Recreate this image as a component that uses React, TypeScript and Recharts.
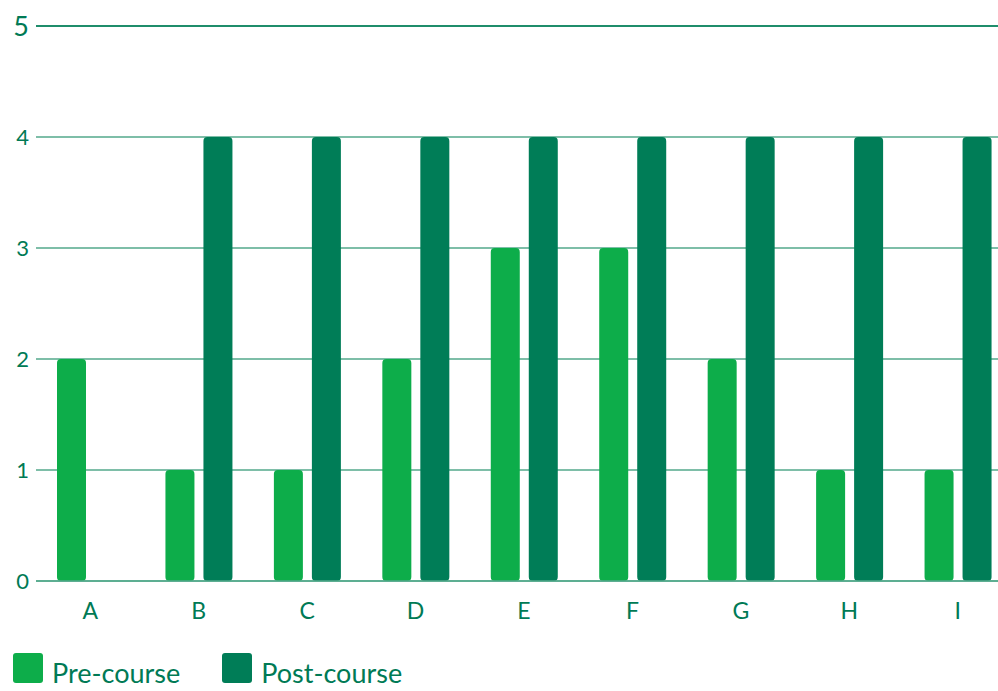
import React from "react";
import {
  Bar,
  BarChart,
  CartesianGrid,
  Legend,
  ReferenceLine,
  XAxis,
  YAxis,
} from "recharts";

const CATEGORIES = ["A", "B", "C", "D", "E", "F", "G", "H", "I"];
const PRE_COURSE = [2, 1, 1, 2, 3, 3, 2, 1, 1];
const POST_COURSE = [0, 4, 4, 4, 4, 4, 4, 4, 4];
const Y_TICKS = [0, 1, 2, 3, 4, 5];

const PRE_COLOR = "#0dad4a";
const POST_COLOR = "#007d57";
const TEXT_COLOR = "#007a55";
const GRID_COLOR = "#53a98b";
const FONT = "Lato, 'Open Sans', sans-serif";

const data = CATEGORIES.map((name, i) => ({
  name,
  pre: PRE_COURSE[i],
  post: POST_COURSE[i],
}));

function YTick(props: any) {
  const { x, y, payload } = props;
  const top = payload.value === 5;
  return (
    <text
      x={x}
      y={y}
      dy="0.36em"
      textAnchor="end"
      fill={TEXT_COLOR}
      fontFamily={FONT}
      fontSize={top ? 27 : 22}
    >
      {payload.value}
    </text>
  );
}

function LegendContent() {
  const items = [
    { label: "Pre-course", color: PRE_COLOR },
    { label: "Post-course", color: POST_COLOR },
  ];
  return (
    <div
      style={{
        display: "flex",
        alignItems: "flex-end",
        paddingLeft: 13,
        height: 32,
      }}
    >
      {items.map((item) => (
        <div
          key={item.label}
          style={{ display: "flex", alignItems: "flex-end", marginRight: 42 }}
        >
          <span
            style={{
              width: 30,
              height: 30,
              borderRadius: 3,
              background: item.color,
              display: "inline-block",
              marginRight: 9,
              marginBottom: 1,
            }}
          />
          <span
            style={{
              fontFamily: FONT,
              fontSize: 27,
              color: TEXT_COLOR,
              lineHeight: "22px",
              whiteSpace: "nowrap",
            }}
          >
            {item.label}
          </span>
        </div>
      ))}
    </div>
  );
}

export default function App() {
  return (
    <div style={{ width: 998, height: 691, overflow: "hidden" }}>
      <style>{"body{margin:0;overflow:hidden;}"}</style>
      <BarChart
        width={1012}
        height={691}
        data={data}
        margin={{ top: 26, right: 0, left: 1, bottom: 0 }}
        barSize={29}
        barGap={9}
      >
        <CartesianGrid vertical={false} stroke={GRID_COLOR} strokeWidth={1.3} />
        <XAxis
          dataKey="name"
          axisLine={{ stroke: GRID_COLOR, strokeWidth: 1.3 }}
          tickLine={false}
          tickSize={0}
          tickMargin={22}
          height={78}
          tick={{ fill: TEXT_COLOR, fontFamily: FONT, fontSize: 23 }}
        />
        <YAxis
          domain={[0, 5]}
          ticks={Y_TICKS}
          axisLine={false}
          tickLine={false}
          tickSize={0}
          tickMargin={7}
          width={35}
          tick={<YTick />}
        />
        <ReferenceLine y={5} stroke={POST_COLOR} strokeWidth={1.3} />
        <Legend
          verticalAlign="bottom"
          align="left"
          height={32}
          content={<LegendContent />}
          wrapperStyle={{ top: 652, left: 0, height: 32 }}
        />
        <Bar dataKey="pre" fill={PRE_COLOR} radius={4} isAnimationActive={false} />
        <Bar dataKey="post" fill={POST_COLOR} radius={4} isAnimationActive={false} />
      </BarChart>
    </div>
  );
}
